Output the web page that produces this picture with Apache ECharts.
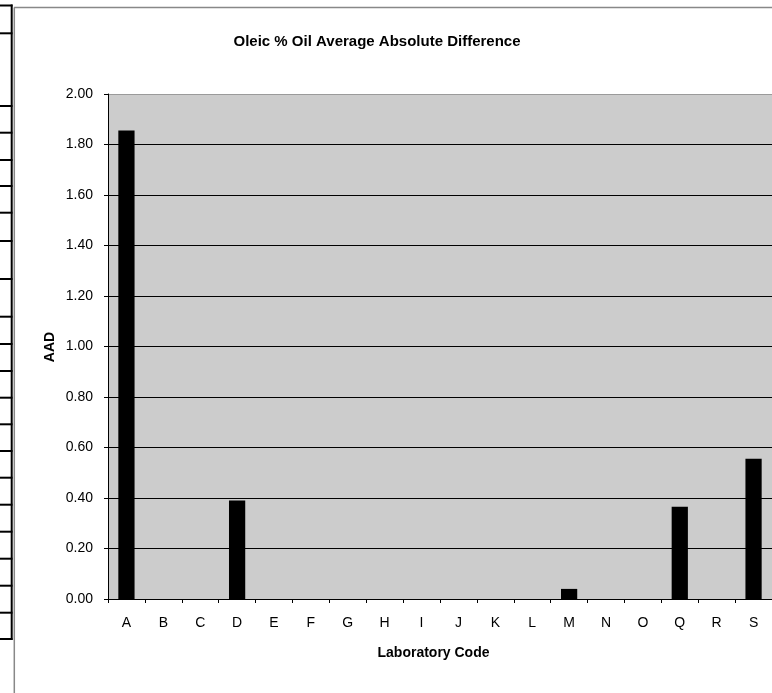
<!DOCTYPE html>
<html><head><meta charset="utf-8">
<script src="https://cdn.jsdelivr.net/npm/echarts@6/dist/echarts.min.js"></script>
<style>html,body{margin:0;padding:0;background:#fff}#c{width:772px;height:693px}</style>
</head><body><div id="c"></div>
<script>
var categories = ['A','B','C','D','E','F','G','H','I','J','K','L','M','N','O','Q','R','S'];
var aadValues = [1.855, 0, 0, 0.39, 0, 0, 0, 0, 0, 0, 0, 0, 0.04, 0, 0, 0.365, 0, 0.555];
var yTicks = [0, 0.2, 0.4, 0.6, 0.8, 1.0, 1.2, 1.4, 1.6, 1.8, 2.0];
var titleText = 'Oleic % Oil Average Absolute Difference';
var yName = 'AAD';
var xName = 'Laboratory Code';

var FONT = 'Liberation Sans, Arial, sans-serif';
// decorative spreadsheet cell borders at left
var cellLineYs = [5.5, 33.3, 106, 132.7, 160, 186, 212.7, 241, 279, 316.7, 344, 371, 397.7, 424.3, 451, 477.7, 504.7, 531.7, 558.7, 585.7, 612.7, 639];
var deco = [];
cellLineYs.forEach(function(y){
  deco.push({type:'line', shape:{x1:0,y1:y,x2:12.5,y2:y}, style:{stroke:'#000', lineWidth:2}, silent:true});
});
deco.push({type:'line', shape:{x1:11.7,y1:4.5,x2:11.7,y2:640}, style:{stroke:'#000', lineWidth:2}, silent:true});
deco.push({type:'line', shape:{x1:14.3,y1:7.5,x2:14.3,y2:693}, style:{stroke:'#888', lineWidth:1.5}, silent:true});
deco.push({type:'line', shape:{x1:14,y1:7.5,x2:772,y2:7.5}, style:{stroke:'#888', lineWidth:1.5}, silent:true});
deco.push({type:'text', x:377, y:42, style:{text:titleText, fill:'#000', font:'bold 15px ' + FONT, textAlign:'center', textVerticalAlign:'middle'}});
deco.push({type:'text', x:433.5, y:653.5, style:{text:xName, fill:'#000', font:'bold 14px ' + FONT, textAlign:'center', textVerticalAlign:'middle'}});
deco.push({type:'text', x:50, y:347, rotation:Math.PI/2, style:{text:yName, fill:'#000', font:'bold 14px ' + FONT, textAlign:'center', textVerticalAlign:'middle'}});

var splitColors = yTicks.map(function(v,i){ return i === yTicks.length-1 ? '#9a9a9a' : '#000'; });

var chart = echarts.init(document.getElementById('c'), null, {renderer:'canvas'});
chart.setOption({
  animation:false,
  backgroundColor:'#fff',
  grid:{left:108, top:94, right:-1, bottom:94, show:true, backgroundColor:'#cccccc', borderWidth:0},
  xAxis:{
    type:'category', data:categories,
    axisLine:{show:true, lineStyle:{color:'#000', width:1}},
    axisTick:{show:true, length:4, inside:false, lineStyle:{color:'#000'}},
    axisLabel:{color:'#000', fontSize:14, fontFamily:FONT, margin:17},
    splitLine:{show:false}
  },
  yAxis:{
    type:'value', min:0, max:2, interval:0.2,
    axisLine:{show:true, lineStyle:{color:'#000', width:1}},
    axisTick:{show:true, length:4, lineStyle:{color:'#000'}},
    axisLabel:{color:'#000', fontSize:14, fontFamily:FONT, margin:15, formatter:function(v){return v.toFixed(2);}},
    splitLine:{show:true, lineStyle:{color:splitColors, width:1}}
  },
  series:[{
    type:'bar', data:aadValues, barWidth:'44%',
    itemStyle:{color:'#000', borderWidth:0}
  }],
  graphic:deco
});
</script></body></html>
